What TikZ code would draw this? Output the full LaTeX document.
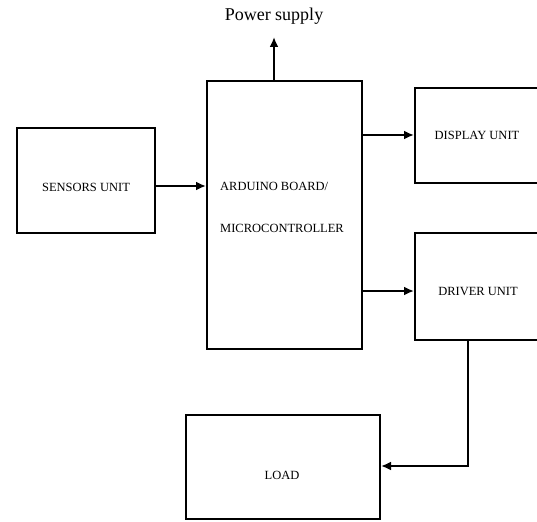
\documentclass[tikz,border=0pt]{standalone}
\usepackage{fontspec}
\setmainfont{Liberation Serif}
\usetikzlibrary{arrows.meta}
\begin{document}
\begin{tikzpicture}[x=1pt, y=-1pt,
  block/.style={draw, line width=2pt, inner sep=0pt},
  lbl/.style={font=\fontsize{12.5}{14}\selectfont, inner sep=0pt},
  arr/.style={line width=2pt, -{Latex[length=10pt,width=9pt]}}]
\useasboundingbox (0,0) rectangle (537,521);

% bloques
\node[block, minimum width=138pt, minimum height=105pt] (sensors) at (86,180.5) {};
\node[block, minimum width=155pt, minimum height=268pt] (arduino) at (284.5,215) {};
\node[block, minimum width=145pt, minimum height=95pt] (display) at (487.5,135.5) {};
\node[block, minimum width=145pt, minimum height=107pt] (driver) at (487.5,286.5) {};
\node[block, minimum width=194pt, minimum height=104pt] (load) at (283,467) {};

% textos
\node[lbl] (sensorstxt) at (86,187) {SENSORS UNIT};
\node[lbl, anchor=west] (ardtxt) at (220,186) {ARDUINO BOARD/};
\node[lbl, anchor=west] (mctxt) at (220,228) {MICROCONTROLLER};
\node[lbl] (disptxt) at (477,135) {DISPLAY UNIT};
\node[lbl] (drvtxt) at (478,292) {DRIVER UNIT};
\node[lbl] (loadtxt) at (282,475) {LOAD};
\node[font=\fontsize{18}{20}\selectfont, inner sep=0pt] (power) at (274,16) {Power supply};

% flechas
\draw[arr] (arduino.north -| power) -- ++(0,-43);
\draw[arr] (sensors.east |- 0,186) -- (arduino.west |- 0,186);
\draw[arr] (arduino.east |- 0,135) -- (display.west |- 0,135);
\draw[arr] (arduino.east |- 0,291) -- (driver.west |- 0,291);
\draw[arr] (driver.south -| 468,0) |- (load.east |- 0,466);
\end{tikzpicture}
\end{document}
